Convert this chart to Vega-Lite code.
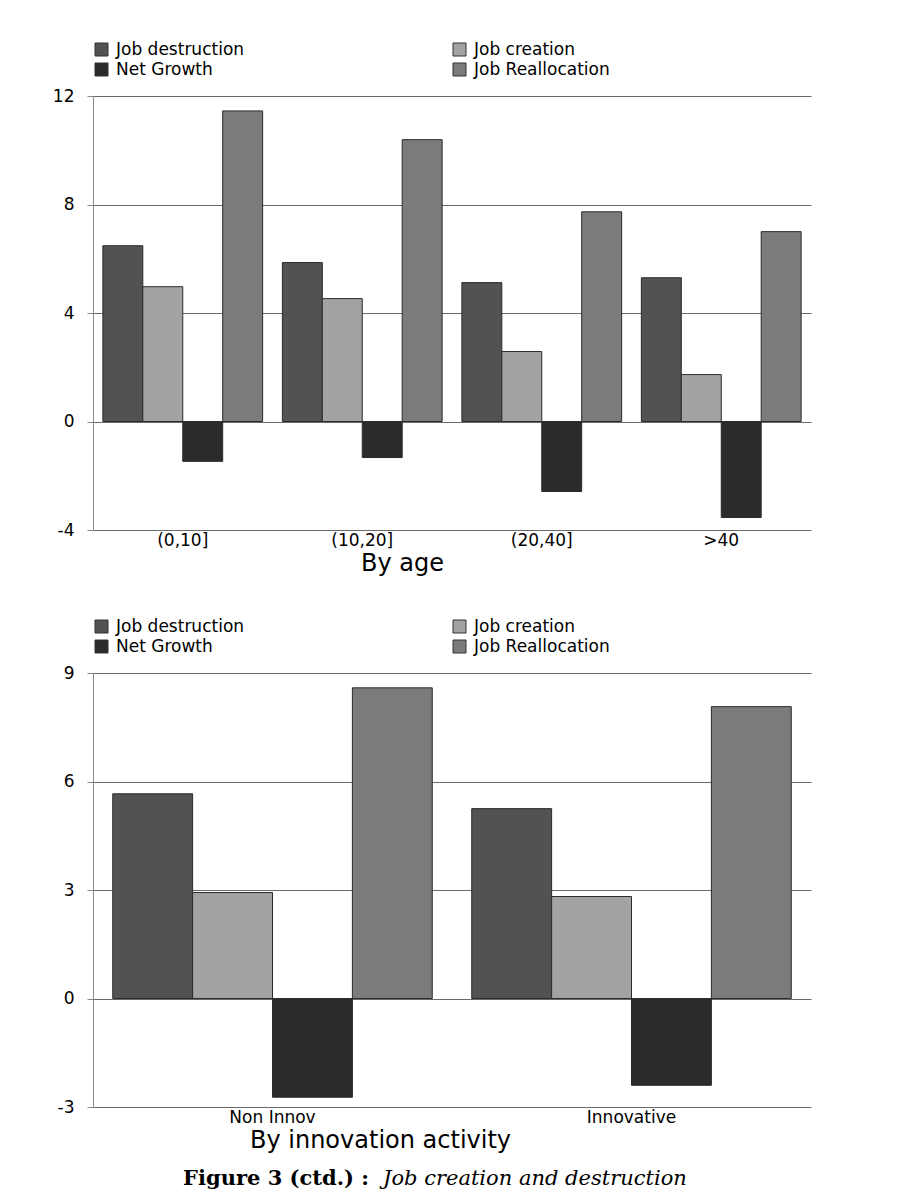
{
  "$schema": "https://vega.github.io/schema/vega-lite/v6.json",
  "background": "white",
  "padding": {"left": 52, "top": 41, "right": 91, "bottom": 4},
  "config": {
    "font": "DejaVu Sans",
    "view": {"stroke": null},
    "axis": {
      "labelFont": "DejaVu Sans",
      "labelFontSize": 17,
      "labelColor": "#000000",
      "titleFont": "DejaVu Sans",
      "titleFontSize": 24,
      "titleFontWeight": "normal",
      "titleColor": "#000000",
      "gridColor": "#6a6a6a",
      "gridWidth": 1,
      "domainColor": "#8a8a8a",
      "tickColor": "#8a8a8a"
    },
    "legend": {
      "labelFont": "DejaVu Sans",
      "labelFontSize": 17,
      "labelColor": "#000000"
    }
  },
  "spacing": 43,
  "resolve": {"scale": {"color": "independent", "xOffset": "independent"}, "legend": {"color": "independent"}},
  "vconcat": [
    {
      "width": 718,
      "height": 434,
      "data": {"values": [
        {"category": "(0,10]", "measure": "Job destruction", "value": 6.48},
        {"category": "(0,10]", "measure": "Job creation", "value": 4.97},
        {"category": "(0,10]", "measure": "Net Growth", "value": -1.47},
        {"category": "(0,10]", "measure": "Job Reallocation", "value": 11.45},
        {"category": "(10,20]", "measure": "Job destruction", "value": 5.86},
        {"category": "(10,20]", "measure": "Job creation", "value": 4.53},
        {"category": "(10,20]", "measure": "Net Growth", "value": -1.33},
        {"category": "(10,20]", "measure": "Job Reallocation", "value": 10.39},
        {"category": "(20,40]", "measure": "Job destruction", "value": 5.12},
        {"category": "(20,40]", "measure": "Job creation", "value": 2.58},
        {"category": "(20,40]", "measure": "Net Growth", "value": -2.58},
        {"category": "(20,40]", "measure": "Job Reallocation", "value": 7.73},
        {"category": ">40", "measure": "Job destruction", "value": 5.30},
        {"category": ">40", "measure": "Job creation", "value": 1.73},
        {"category": ">40", "measure": "Net Growth", "value": -3.54},
        {"category": ">40", "measure": "Job Reallocation", "value": 7.00}
      ]},
      "mark": {"type": "bar", "stroke": "#2b2b2b", "strokeWidth": 1},
      "encoding": {
        "x": {
          "field": "category", "type": "nominal",
          "sort": ["(0,10]", "(10,20]", "(20,40]", ">40"],
          "scale": {"paddingInner": 0.11, "paddingOuter": 0.055},
          "axis": {"title": "By age", "labelAngle": 0, "ticks": false, "domain": false, "labelPadding": 2, "titlePadding": 3, "titleX": 309, "titleAnchor": "middle"}
        },
        "xOffset": {
          "field": "measure", "type": "nominal",
          "sort": ["Job destruction", "Job creation", "Net Growth", "Job Reallocation"],
          "scale": {"paddingInner": 0, "paddingOuter": 0}
        },
        "y": {
          "field": "value", "type": "quantitative",
          "scale": {"domain": [-4, 12], "nice": false, "zero": false},
          "axis": {"title": null, "values": [-4, 0, 4, 8, 12], "labelExpr": "'' + datum.value", "tickSize": 6, "labelPadding": 13, "minExtent": 41, "maxExtent": 41}
        },
        "color": {
          "field": "measure", "type": "nominal",
          "scale": {"domain": ["Job destruction", "Job creation", "Net Growth", "Job Reallocation"], "range": ["#525252", "#a3a3a3", "#2b2b2b", "#7b7b7b"]},
          "legend": {"title": null, "orient": "none", "legendX": 0, "legendY": -55, "direction": "horizontal", "columns": 2, "columnPadding": 206, "rowPadding": 2, "symbolType": "square", "symbolSize": 169, "symbolStrokeColor": "#333333", "symbolStrokeWidth": 1, "symbolOpacity": 1, "labelOffset": 6}
        }
      }
    },
    {
      "spacing": 7,
      "resolve": {"scale": {"color": "independent", "xOffset": "independent"}, "legend": {"color": "independent"}},
      "vconcat": [
        {
          "width": 718,
          "height": 434,
          "data": {"values": [
            {"category": "Non Innov", "measure": "Job destruction", "value": 5.66},
            {"category": "Non Innov", "measure": "Job creation", "value": 2.93},
            {"category": "Non Innov", "measure": "Net Growth", "value": -2.73},
            {"category": "Non Innov", "measure": "Job Reallocation", "value": 8.59},
            {"category": "Innovative", "measure": "Job destruction", "value": 5.25},
            {"category": "Innovative", "measure": "Job creation", "value": 2.82},
            {"category": "Innovative", "measure": "Net Growth", "value": -2.40},
            {"category": "Innovative", "measure": "Job Reallocation", "value": 8.07}
          ]},
          "mark": {"type": "bar", "stroke": "#2b2b2b", "strokeWidth": 1},
          "encoding": {
            "x": {
              "field": "category", "type": "nominal",
              "sort": ["Non Innov", "Innovative"],
              "scale": {"paddingInner": 0.11, "paddingOuter": 0.055},
              "axis": {"title": "By innovation activity", "labelAngle": 0, "ticks": false, "domain": false, "labelPadding": 2, "titlePadding": 3, "titleX": 287, "titleAnchor": "middle"}
            },
            "xOffset": {
              "field": "measure", "type": "nominal",
              "sort": ["Job destruction", "Job creation", "Net Growth", "Job Reallocation"],
              "scale": {"paddingInner": 0, "paddingOuter": 0}
            },
            "y": {
              "field": "value", "type": "quantitative",
              "scale": {"domain": [-3, 9], "nice": false, "zero": false},
              "axis": {"title": null, "values": [-3, 0, 3, 6, 9], "labelExpr": "'' + datum.value", "tickSize": 6, "labelPadding": 13, "minExtent": 41, "maxExtent": 41}
            },
            "color": {
              "field": "measure", "type": "nominal",
              "scale": {"domain": ["Job destruction", "Job creation", "Net Growth", "Job Reallocation"], "range": ["#525252", "#a3a3a3", "#2b2b2b", "#7b7b7b"]},
              "legend": {"title": null, "orient": "none", "legendX": 0, "legendY": -55, "direction": "horizontal", "columns": 2, "columnPadding": 206, "rowPadding": 2, "symbolType": "square", "symbolSize": 169, "symbolStrokeColor": "#333333", "symbolStrokeWidth": 1, "symbolOpacity": 1, "labelOffset": 6}
            }
          }
        },
        {
          "width": 759,
          "height": 40,
          "layer": [
            {
              "data": {"values": [{"t": "Figure 3 (ctd.) :"}]},
              "mark": {"type": "text", "align": "right", "baseline": "middle", "font": "DejaVu Serif", "fontWeight": "bold", "fontSize": 21, "color": "#000000"},
              "encoding": {
                "text": {"field": "t", "type": "nominal"},
                "x": {"datum": 276, "type": "quantitative", "scale": {"domain": [0, 759]}, "axis": null}
              }
            },
            {
              "data": {"values": [{"t": "Job creation and destruction"}]},
              "mark": {"type": "text", "align": "left", "baseline": "middle", "font": "DejaVu Serif", "fontStyle": "italic", "fontSize": 21, "color": "#000000"},
              "encoding": {
                "text": {"field": "t", "type": "nominal"},
                "x": {"datum": 290, "type": "quantitative", "scale": {"domain": [0, 759]}, "axis": null}
              }
            }
          ]
        }
      ]
    }
  ]
}
